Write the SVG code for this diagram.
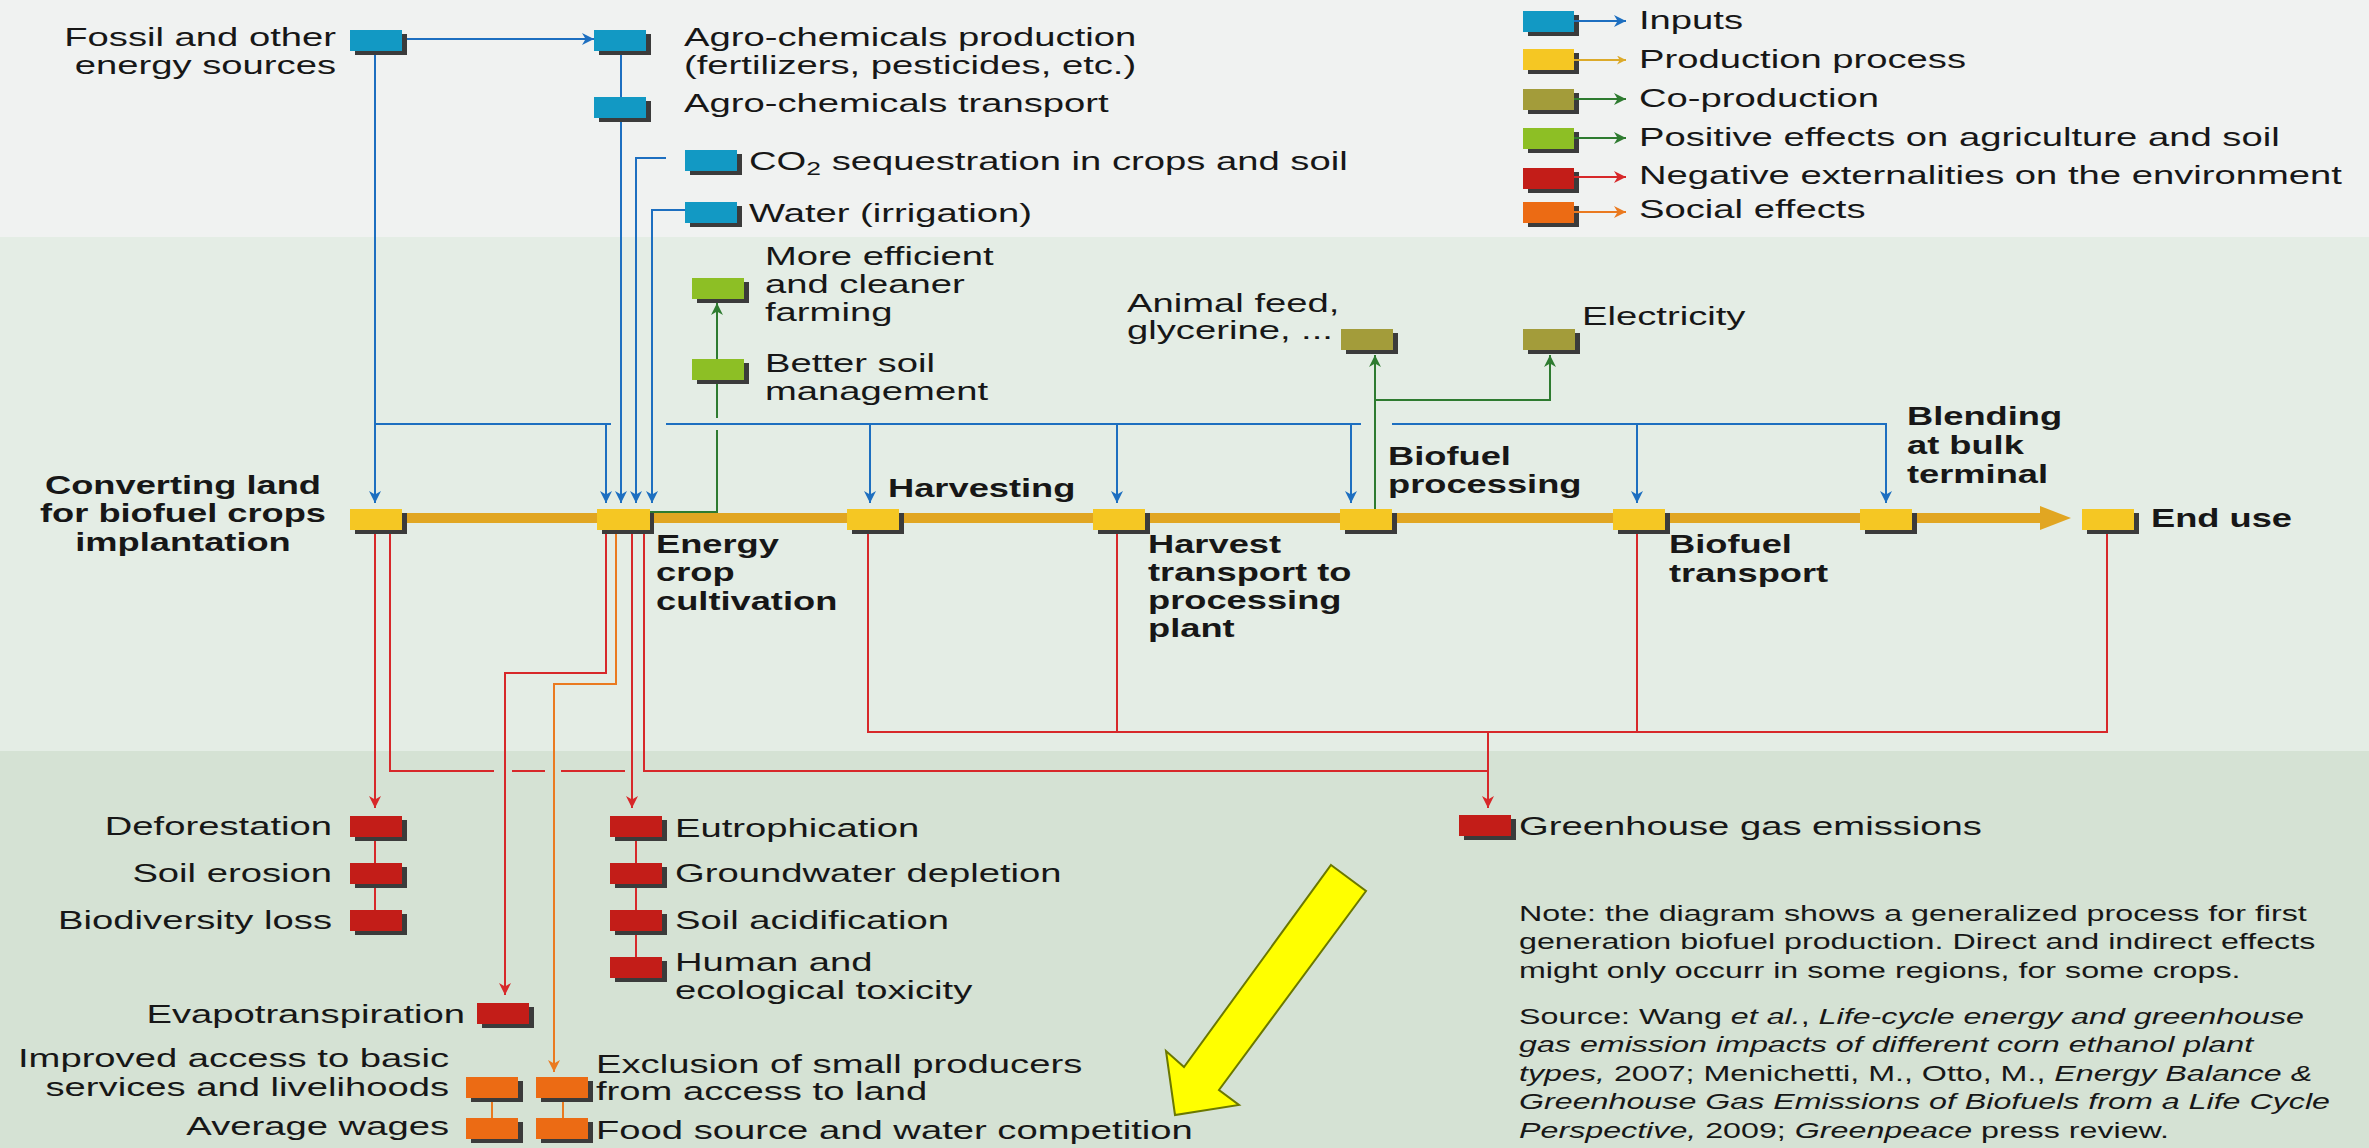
<svg xmlns="http://www.w3.org/2000/svg" width="2369" height="1148" viewBox="0 0 2369 1148">
<defs>
<style>
.t{font-family:"Liberation Sans",Arial,Helvetica,sans-serif;font-size:26px;fill:#171717}
.b{font-weight:bold}
.n{font-size:22px}
.i{font-style:italic}
.sh{fill:#3b3b3b}
.in{fill:#1299c4}
.pr{fill:#f5c723}
.co{fill:#a39c3a}
.po{fill:#8dbf25}
.ne{fill:#c31d18}
.so{fill:#ec6b14}
.lb{fill:none;stroke:#1d6fc0;stroke-width:2}
.lr{fill:none;stroke:#d7282a;stroke-width:2}
.lo{fill:none;stroke:#ea7a20;stroke-width:2}
.lg{fill:none;stroke:#2e7b30;stroke-width:2}
</style>
<marker id="mb" viewBox="0 0 10 10" refX="10" refY="5" markerWidth="12" markerHeight="12" markerUnits="userSpaceOnUse" orient="auto"><path d="M0,0 L10,5 L0,10 L3,5 z" fill="#1d6fc0"/></marker>
<marker id="mr" viewBox="0 0 10 10" refX="10" refY="5" markerWidth="12" markerHeight="12" markerUnits="userSpaceOnUse" orient="auto"><path d="M0,0 L10,5 L0,10 L3,5 z" fill="#d7282a"/></marker>
<marker id="mo" viewBox="0 0 10 10" refX="10" refY="5" markerWidth="12" markerHeight="12" markerUnits="userSpaceOnUse" orient="auto"><path d="M0,0 L10,5 L0,10 L3,5 z" fill="#ea7a20"/></marker>
<marker id="mg" viewBox="0 0 10 10" refX="10" refY="5" markerWidth="12" markerHeight="12" markerUnits="userSpaceOnUse" orient="auto"><path d="M0,0 L10,5 L0,10 L3,5 z" fill="#2e7b30"/></marker>
<marker id="my" viewBox="0 0 10 10" refX="10" refY="5" markerWidth="9" markerHeight="9" markerUnits="userSpaceOnUse" orient="auto"><path d="M0,0 L10,5 L0,10 L3,5 z" fill="#dcaa2a"/></marker>
</defs>

<g id="background">
<rect x="0" y="0" width="2369" height="237" fill="#f0f2f1"/>
<rect x="0" y="237" width="2369" height="514" fill="#e4ede5"/>
<rect x="0" y="751" width="2369" height="397" fill="#d5e2d4"/>
</g>

<g id="connectors">
<rect x="375" y="513" width="1669" height="10" fill="#e1a622"/>
<polygon points="2040,506 2071,518 2040,530" fill="#e1a622"/>
<path class="lb" d="M404,39 H594" marker-end="url(#mb)"/>
<path class="lb" d="M375,51 V503" marker-end="url(#mb)"/>
<path class="lb" d="M375,424 H611"/>
<path class="lb" d="M606,424 V503" marker-end="url(#mb)"/>
<path class="lb" d="M621,51 V97"/>
<path class="lb" d="M621,118 V503" marker-end="url(#mb)"/>
<path class="lb" d="M666,158 H636 V503" marker-end="url(#mb)"/>
<path class="lb" d="M685,210 H652 V503" marker-end="url(#mb)"/>
<path class="lb" d="M666,424 H1361"/>
<path class="lb" d="M1392,424 H1886 V503" marker-end="url(#mb)"/>
<path class="lb" d="M870,424 V503" marker-end="url(#mb)"/>
<path class="lb" d="M1117,424 V503" marker-end="url(#mb)"/>
<path class="lb" d="M1351,424 V503" marker-end="url(#mb)"/>
<path class="lb" d="M1637,424 V503" marker-end="url(#mb)"/>
<path class="lg" d="M650,512 H717 V430"/>
<path class="lg" d="M717,418 V380"/>
<path class="lg" d="M717,359 V303" marker-end="url(#mg)"/>
<path class="lg" d="M1375,509 V355" marker-end="url(#mg)"/>
<path class="lg" d="M1375,400 H1550 V355" marker-end="url(#mg)"/>
<path class="lr" d="M375,530 V808" marker-end="url(#mr)"/>
<path class="lr" d="M390,530 V771 H494"/>
<path class="lr" d="M512,771 H545"/>
<path class="lr" d="M561,771 H625"/>
<path class="lr" d="M644,530 V771 H1488"/>
<path class="lr" d="M606,530 V673 H505 V995" marker-end="url(#mr)"/>
<path class="lr" d="M632,530 V808" marker-end="url(#mr)"/>
<path class="lr" d="M868,530 V732 H2107 V530"/>
<path class="lr" d="M1117,530 V732"/>
<path class="lr" d="M1637,530 V732"/>
<path class="lr" d="M1488,732 V808" marker-end="url(#mr)"/>
<path class="lr" d="M375,836 V910"/>
<path class="lr" d="M636,836 V957"/>
<path class="lo" d="M616,530 V684 H554 V1072" marker-end="url(#mo)"/>
<path class="lo" d="M492,1097 V1118"/>
<path class="lo" d="M563,1097 V1118"/>
</g>

<g id="fossil"><rect class="sh" x="355" y="34" width="52" height="21"/><rect class="in" x="350" y="30" width="52" height="21"/>
<text class="t" text-anchor="end" transform="translate(336,46) scale(1.47,1)">Fossil and other<tspan x="0" dy="28">energy sources</tspan></text></g>
<g id="agro-production"><rect class="sh" x="599" y="34" width="52" height="21"/><rect class="in" x="594" y="30" width="52" height="21"/>
<text class="t" transform="translate(684,46) scale(1.47,1)">Agro-chemicals production<tspan x="0" dy="28">(fertilizers, pesticides, etc.)</tspan></text></g>
<g id="agro-transport"><rect class="sh" x="599" y="101" width="52" height="21"/><rect class="in" x="594" y="97" width="52" height="21"/>
<text class="t" transform="translate(684,112) scale(1.47,1)">Agro-chemicals transport</text></g>
<g id="co2"><rect class="sh" x="690" y="154" width="52" height="21"/><rect class="in" x="685" y="150" width="52" height="21"/>
<text class="t" transform="translate(749,170) scale(1.47,1)">CO<tspan font-size="18" dy="5">2</tspan><tspan dy="-5"> sequestration in crops and soil</tspan></text></g>
<g id="water"><rect class="sh" x="690" y="206" width="52" height="21"/><rect class="in" x="685" y="202" width="52" height="21"/>
<text class="t" transform="translate(749,222) scale(1.47,1)">Water (irrigation)</text></g>

<g id="efficient-farming"><rect class="sh" x="697" y="282" width="52" height="21"/><rect class="po" x="692" y="278" width="52" height="21"/>
<text class="t" transform="translate(765,265) scale(1.47,1)">More efficient<tspan x="0" dy="28">and cleaner</tspan><tspan x="0" dy="28">farming</tspan></text></g>
<g id="soil-management"><rect class="sh" x="697" y="363" width="52" height="21"/><rect class="po" x="692" y="359" width="52" height="21"/>
<text class="t" transform="translate(765,372) scale(1.47,1)">Better soil<tspan x="0" dy="28">management</tspan></text></g>

<g id="animal-feed"><rect class="sh" x="1346" y="333" width="52" height="21"/><rect class="co" x="1341" y="329" width="52" height="21"/>
<text class="t" transform="translate(1127,312) scale(1.47,1)">Animal feed,<tspan x="0" dy="27">glycerine, ...</tspan></text></g>
<g id="electricity"><rect class="sh" x="1528" y="333" width="52" height="21"/><rect class="co" x="1523" y="329" width="52" height="21"/>
<text class="t" transform="translate(1582,325) scale(1.47,1)">Electricity</text></g>

<g id="converting-land"><rect class="sh" x="355" y="513" width="52" height="21"/><rect class="pr" x="350" y="509" width="52" height="21"/>
<text class="t b" text-anchor="middle" transform="translate(183,494) scale(1.395,1)">Converting land<tspan x="0" dy="28.5">for biofuel crops</tspan><tspan x="0" dy="28.5">implantation</tspan></text></g>
<g id="energy-crop"><rect class="sh" x="602" y="513" width="52" height="21"/><rect class="pr" x="597" y="509" width="53" height="21"/>
<text class="t b" transform="translate(656,553) scale(1.395,1)">Energy<tspan x="0" dy="28.5">crop</tspan><tspan x="0" dy="28.5">cultivation</tspan></text></g>
<g id="harvesting"><rect class="sh" x="852" y="513" width="52" height="21"/><rect class="pr" x="847" y="509" width="52" height="21"/>
<text class="t b" transform="translate(888,497) scale(1.395,1)">Harvesting</text></g>
<g id="harvest-transport"><rect class="sh" x="1098" y="513" width="52" height="21"/><rect class="pr" x="1093" y="509" width="52" height="21"/>
<text class="t b" transform="translate(1148,553) scale(1.395,1)">Harvest<tspan x="0" dy="28">transport to</tspan><tspan x="0" dy="28">processing</tspan><tspan x="0" dy="28">plant</tspan></text></g>
<g id="biofuel-processing"><rect class="sh" x="1345" y="513" width="52" height="21"/><rect class="pr" x="1340" y="509" width="52" height="21"/>
<text class="t b" transform="translate(1388,465) scale(1.395,1)">Biofuel<tspan x="0" dy="28.5">processing</tspan></text></g>
<g id="biofuel-transport"><rect class="sh" x="1618" y="513" width="52" height="21"/><rect class="pr" x="1613" y="509" width="52" height="21"/>
<text class="t b" transform="translate(1669,553) scale(1.395,1)">Biofuel<tspan x="0" dy="29">transport</tspan></text></g>
<g id="blending"><rect class="sh" x="1865" y="513" width="52" height="21"/><rect class="pr" x="1860" y="509" width="52" height="21"/>
<text class="t b" transform="translate(1907,425) scale(1.395,1)">Blending<tspan x="0" dy="29">at bulk</tspan><tspan x="0" dy="29">terminal</tspan></text></g>
<g id="end-use"><rect class="sh" x="2087" y="513" width="52" height="21"/><rect class="pr" x="2082" y="509" width="52" height="21"/>
<text class="t b" transform="translate(2151,527) scale(1.395,1)">End use</text></g>

<g id="deforestation"><rect class="sh" x="355" y="820" width="52" height="21"/><rect class="ne" x="350" y="816" width="52" height="21"/>
<text class="t" text-anchor="end" transform="translate(332,835) scale(1.47,1)">Deforestation</text></g>
<g id="soil-erosion"><rect class="sh" x="355" y="867" width="52" height="21"/><rect class="ne" x="350" y="863" width="52" height="21"/>
<text class="t" text-anchor="end" transform="translate(332,882) scale(1.47,1)">Soil erosion</text></g>
<g id="biodiversity-loss"><rect class="sh" x="355" y="914" width="52" height="21"/><rect class="ne" x="350" y="910" width="52" height="21"/>
<text class="t" text-anchor="end" transform="translate(332,929) scale(1.47,1)">Biodiversity loss</text></g>
<g id="evapotranspiration"><rect class="sh" x="482" y="1007" width="52" height="21"/><rect class="ne" x="477" y="1003" width="52" height="21"/>
<text class="t" text-anchor="end" transform="translate(465,1023) scale(1.47,1)">Evapotranspiration</text></g>
<g id="eutrophication"><rect class="sh" x="615" y="820" width="52" height="21"/><rect class="ne" x="610" y="816" width="52" height="21"/>
<text class="t" transform="translate(675,837) scale(1.47,1)">Eutrophication</text></g>
<g id="groundwater-depletion"><rect class="sh" x="615" y="867" width="52" height="21"/><rect class="ne" x="610" y="863" width="52" height="21"/>
<text class="t" transform="translate(675,882) scale(1.47,1)">Groundwater depletion</text></g>
<g id="soil-acidification"><rect class="sh" x="615" y="914" width="52" height="21"/><rect class="ne" x="610" y="910" width="52" height="21"/>
<text class="t" transform="translate(675,929) scale(1.47,1)">Soil acidification</text></g>
<g id="toxicity"><rect class="sh" x="615" y="961" width="52" height="21"/><rect class="ne" x="610" y="957" width="52" height="21"/>
<text class="t" transform="translate(675,971) scale(1.47,1)">Human and<tspan x="0" dy="28">ecological toxicity</tspan></text></g>
<g id="ghg-emissions"><rect class="sh" x="1464" y="819" width="52" height="21"/><rect class="ne" x="1459" y="815" width="52" height="21"/>
<text class="t" transform="translate(1519,835) scale(1.47,1)">Greenhouse gas emissions</text></g>

<g id="improved-access"><rect class="sh" x="471" y="1081" width="52" height="21"/><rect class="so" x="466" y="1077" width="52" height="21"/>
<text class="t" text-anchor="end" transform="translate(449,1067) scale(1.47,1)">Improved access to basic<tspan x="0" dy="29">services and livelihoods</tspan></text></g>
<g id="average-wages"><rect class="sh" x="471" y="1122" width="52" height="21"/><rect class="so" x="466" y="1118" width="52" height="21"/>
<text class="t" text-anchor="end" transform="translate(449,1135) scale(1.47,1)">Average wages</text></g>
<g id="exclusion"><rect class="sh" x="541" y="1081" width="52" height="21"/><rect class="so" x="536" y="1077" width="52" height="21"/>
<text class="t" transform="translate(596,1073) scale(1.47,1)">Exclusion of small producers<tspan x="0" dy="27">from access to land</tspan></text></g>
<g id="food-competition"><rect class="sh" x="541" y="1122" width="52" height="21"/><rect class="so" x="536" y="1118" width="52" height="21"/>
<text class="t" transform="translate(596,1139) scale(1.47,1)">Food source and water competition</text></g>

<g id="legend">
<rect class="sh" x="1528" y="15" width="51" height="21"/><rect class="in" x="1523" y="11" width="51" height="21"/>
<path d="M1574,21 H1626" fill="none" stroke="#1d6fc0" stroke-width="2" marker-end="url(#mb)"/>
<text class="t" transform="translate(1639,29) scale(1.47,1)">Inputs</text>
<rect class="sh" x="1528" y="53" width="51" height="21"/><rect class="pr" x="1523" y="49" width="51" height="21"/>
<path d="M1574,60 H1626" fill="none" stroke="#dcaa2a" stroke-width="2" marker-end="url(#my)"/>
<text class="t" transform="translate(1639,68) scale(1.47,1)">Production process</text>
<rect class="sh" x="1528" y="93" width="51" height="21"/><rect class="co" x="1523" y="89" width="51" height="21"/>
<path d="M1574,99 H1626" fill="none" stroke="#2e7b30" stroke-width="2" marker-end="url(#mg)"/>
<text class="t" transform="translate(1639,107) scale(1.47,1)">Co-production</text>
<rect class="sh" x="1528" y="132" width="51" height="21"/><rect class="po" x="1523" y="128" width="51" height="21"/>
<path d="M1574,138 H1626" fill="none" stroke="#2e7b30" stroke-width="2" marker-end="url(#mg)"/>
<text class="t" transform="translate(1639,146) scale(1.47,1)">Positive effects on agriculture and soil</text>
<rect class="sh" x="1528" y="172" width="51" height="21"/><rect class="ne" x="1523" y="168" width="51" height="21"/>
<path d="M1574,177 H1626" fill="none" stroke="#d7282a" stroke-width="2" marker-end="url(#mr)"/>
<text class="t" transform="translate(1639,184) scale(1.47,1)">Negative externalities on the environment</text>
<rect class="sh" x="1528" y="206" width="51" height="21"/><rect class="so" x="1523" y="202" width="51" height="21"/>
<path d="M1574,212 H1626" fill="none" stroke="#ea7a20" stroke-width="2" marker-end="url(#mo)"/>
<text class="t" transform="translate(1639,218) scale(1.47,1)">Social effects</text>
</g>

<g id="note">
<text class="t n" transform="translate(1519,921) scale(1.465,1)">Note: the diagram shows a generalized process for first<tspan x="0" dy="28.5">generation biofuel production. Direct and indirect effects</tspan><tspan x="0" dy="28.5">might only occurr in some regions, for some crops.</tspan></text>
<text class="t n" transform="translate(1519,1024) scale(1.465,1)">Source: Wang <tspan class="i">et al.</tspan>, <tspan class="i">Life-cycle energy and greenhouse</tspan><tspan class="i" x="0" dy="28.5">gas emission impacts of different corn ethanol plant</tspan><tspan class="i" x="0" dy="28.5">types,</tspan> 2007; Menichetti, M., Otto, M., <tspan class="i">Energy Balance &amp;</tspan><tspan class="i" x="0" dy="28.5">Greenhouse Gas Emissions of Biofuels from a Life Cycle</tspan><tspan class="i" x="0" dy="28.5">Perspective,</tspan> 2009; <tspan class="i">Greenpeace</tspan> press review.</text>
</g>

<g id="highlight-arrow">
<polygon points="1331,865 1366,891 1219,1090 1239,1105 1175,1115 1166,1051 1184,1067" fill="#ffff00" stroke="#6b7800" stroke-width="2"/>
</g>
</svg>
